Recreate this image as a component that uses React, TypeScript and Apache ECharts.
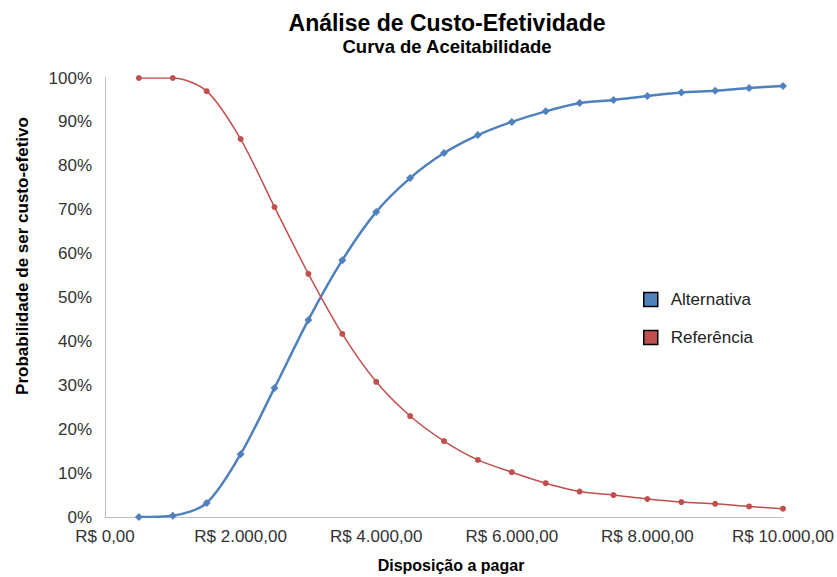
import React, { useEffect, useRef } from "react";
import * as echarts from "echarts";

const xValues = [500, 1000, 1500, 2000, 2500, 3000, 3500, 4000, 4500, 5000, 5500, 6000, 6500, 7000, 7500, 8000, 8500, 9000, 9500, 10000];
const alternativa = [0.0, 0.3, 3.2, 14.3, 29.4, 44.9, 58.5, 69.5, 77.2, 82.9, 87.0, 90.0, 92.4, 94.3, 95.0, 95.9, 96.7, 97.1, 97.7, 98.2];
const referencia = [100.0, 100.0, 97.0, 86.1, 70.6, 55.4, 41.7, 30.8, 23.0, 17.3, 13.0, 10.2, 7.7, 5.8, 5.0, 4.1, 3.4, 3.0, 2.4, 1.9];

const fmtBRL = (v: number) => {
  const intPart = Math.round(v).toString().replace(/\B(?=(\d{3})+(?!\d))/g, ".");
  return "R$ " + intPart + ",00";
};

export default function App() {
  const ref = useRef<HTMLDivElement>(null);
  useEffect(() => {
    const chart = echarts.init(ref.current!, null, { renderer: "svg" });
    const font = "'Liberation Sans', Arial, sans-serif";
    chart.setOption({
      animation: false,
      textStyle: { fontFamily: font },
      title: {
        text: "Análise de Custo-Efetividade",
        subtext: "Curva de Aceitabilidade",
        left: 442,
        textAlign: "center",
        top: 6,
        itemGap: 3,
        textStyle: { fontFamily: font, fontSize: 23, fontWeight: "bold", color: "#000" },
        subtextStyle: { fontFamily: font, fontSize: 18.5, fontWeight: "bold", color: "#000" },
      },
      graphic: [
        {
          type: "text",
          x: 22,
          y: 256,
          rotation: Math.PI / 2,
          style: {
            text: "Probabilidade de ser custo-efetivo",
            font: "bold 17px 'Liberation Sans', Arial, sans-serif",
            fill: "#000",
            align: "center",
            verticalAlign: "middle",
          },
        },
        {
          type: "text",
          x: 451,
          y: 565,
          style: {
            text: "Disposição a pagar",
            font: "bold 16px 'Liberation Sans', Arial, sans-serif",
            fill: "#000",
            align: "center",
            verticalAlign: "middle",
          },
        },
      ],
      legend: {
        orient: "vertical",
        left: 638,
        top: 286,
        itemGap: 21,
        itemWidth: 14,
        itemHeight: 14,
        icon: "rect",
        textStyle: { fontFamily: font, fontSize: 17, color: "#222", padding: [0, 0, 0, 8] },
        data: [
          { name: "Alternativa", itemStyle: { color: "#4F81BD", borderColor: "#000", borderWidth: 1.5 } },
          { name: "Referência", itemStyle: { color: "#C0504D", borderColor: "#000", borderWidth: 1.5 } },
        ],
      },
      grid: { left: 105, right: 54, top: 78, bottom: 60, containLabel: false, outerBoundsMode: "none" },
      xAxis: {
        type: "value",
        min: 0,
        max: 10000,
        interval: 2000,
        axisLine: { show: true, lineStyle: { color: "#BFBFBF", width: 1 } },
        axisTick: { show: false },
        splitLine: { show: false },
        axisLabel: { fontFamily: font, fontSize: 17, color: "#333", margin: 11, formatter: (v: number) => fmtBRL(v) },
      },
      yAxis: {
        type: "value",
        min: 0,
        max: 100,
        interval: 10,
        axisLine: { show: true, lineStyle: { color: "#BFBFBF", width: 1 } },
        axisTick: { show: false },
        splitLine: { show: false },
        axisLabel: { fontFamily: font, fontSize: 17, color: "#333", margin: 13, formatter: (v: number) => v + "%" },
      },
      series: [
        {
          name: "Alternativa",
          type: "line",
          smooth: 0.3,
          data: xValues.map((x, i) => [x, alternativa[i]]),
          symbol: "diamond",
          symbolSize: 8,
          lineStyle: { color: "#4F81BD", width: 2.5 },
          itemStyle: { color: "#4F81BD" },
        },
        {
          name: "Referência",
          type: "line",
          smooth: 0.3,
          data: xValues.map((x, i) => [x, referencia[i]]),
          symbol: "circle",
          symbolSize: 6,
          lineStyle: { color: "#C0504D", width: 1.5 },
          itemStyle: { color: "#C0504D" },
        },
      ],
    });
    return () => chart.dispose();
  }, []);
  return <div ref={ref} style={{ width: 837, height: 577, position: "absolute", left: 0, top: 0 }} />;
}
